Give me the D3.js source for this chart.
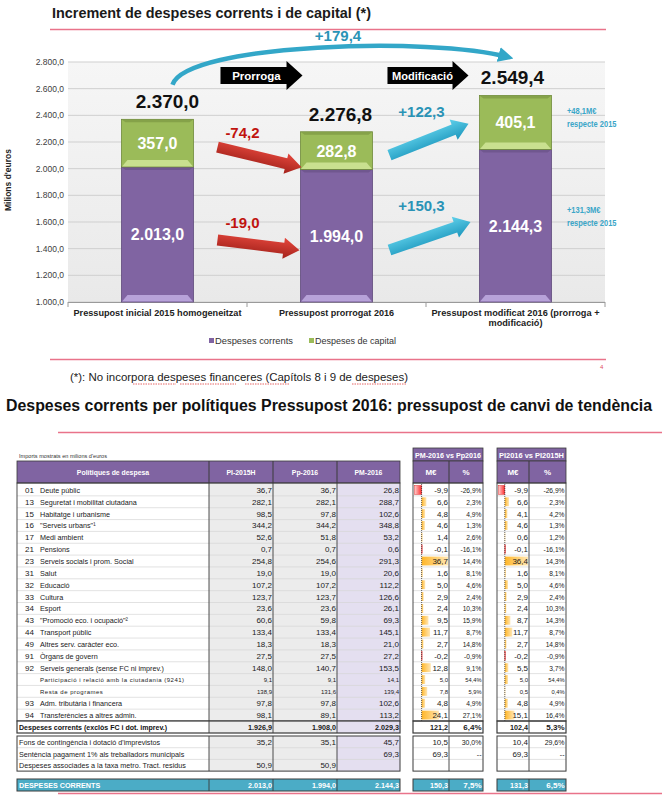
<!DOCTYPE html>
<html><head><meta charset="utf-8">
<script src="https://cdn.jsdelivr.net/npm/d3@7"></script>
<style>body{margin:0;background:#fff}svg{display:block;font-family:"Liberation Sans",Arial,sans-serif}</style>
</head><body>
<svg id="c" width="662" height="798"></svg>
<script>
// ---------- DATA: chart ----------
const categories = ["Pressupost inicial 2015 homogeneitzat","Pressupost prorrogat 2016","Pressupost modificat 2016 (prorroga + modificació)"];
const categoryLines = [["Pressupost inicial 2015 homogeneitzat"],["Pressupost prorrogat 2016"],["Pressupost modificat 2016 (prorroga +","modificació)"]];
const corrents = [2013.0, 1994.0, 2144.3];
const capital = [357.0, 282.8, 405.1];
const totals = [2370.0, 2276.8, 2549.4];
const yTicks = [1000,1200,1400,1600,1800,2000,2200,2400,2600,2800];
const changeCapital = [-74.2, 122.3];
const changeCorrents = [-19.0, 150.3];
const totalChange = 179.4;
const vs2015Notes = [["+48,1M€","respecte 2015"],["+131,3M€","respecte 2015"]];
const seriesNames = ["Despeses corrents","Despeses de capital"];

// ---------- DATA: table ----------
const codes = ["01","13","15","16","17","21","23","31","32","33","34","43","44","49","91","92","","","93","94"];
const policies = ["Deute públic","Seguretat i mobilitat ciutadana","Habitatge i urbanisme","\"Serveis urbans\"¹","Medi ambient","Pensions","Serveis socials i prom. Social","Salut","Educació","Cultura","Esport","\"Promoció eco. i ocupació\"²","Transport públic","Altres serv. caràcter eco.","Òrgans de govern","Serveis generals (sense FC ni imprev.)","Participació i relació amb la ciutadania (9241)","Resta de programes","Adm. tributària i financera","Transferències a altres admin."];
const subRow = [0,0,0,0,0,0,0,0,0,0,0,0,0,0,0,0,1,1,0,0];
const pi2015h = [36.7,282.1,98.5,344.2,52.6,0.7,254.8,19.0,107.2,123.7,23.6,60.6,133.4,18.3,27.5,148.0,9.1,138.9,97.8,98.1];
const pp2016  = [36.7,282.1,97.8,344.2,51.8,0.7,254.6,19.0,107.2,123.7,23.6,59.8,133.4,18.3,27.5,140.7,9.1,131.6,97.8,89.1];
const pm2016  = [26.8,288.7,102.6,348.8,53.2,0.6,291.3,20.6,112.2,126.6,26.1,69.3,145.1,21.0,27.2,153.5,14.1,139.4,102.6,113.2];
const diffPmPp = [-9.9,6.6,4.8,4.6,1.4,-0.1,36.7,1.6,5.0,2.9,2.4,9.5,11.7,2.7,-0.2,12.8,5.0,7.8,4.8,24.1];
const pctPmPp  = [-26.9,2.3,4.9,1.3,2.6,-16.1,14.4,8.1,4.6,2.4,10.3,15.9,8.7,14.8,-0.9,9.1,54.4,5.9,4.9,27.1];
const diffPmPi = [-9.9,6.6,4.1,4.6,0.6,-0.1,36.4,1.6,5.0,2.9,2.4,8.7,11.7,2.7,-0.2,5.5,5.0,0.5,4.8,15.1];
const pctPmPi  = [-26.9,2.3,4.2,1.3,1.2,-16.1,14.3,8.1,4.6,2.4,10.3,14.3,8.7,14.8,-0.9,3.7,54.4,0.4,4.9,16.4];
const subtotalRow = ["Despeses corrents (exclòs FC i dot. imprev.)",1926.9,1908.0,2029.3,121.2,6.4,102.4,5.3];
const otherNames = ["Fons de contingència i dotació d'imprevistos","Sentència pagament 1% als treballadors municipals","Despeses associades a la taxa metro. Tract. residus"];
const otherPi = [35.2,"",50.9];
const otherPp = [35.1,"",50.9];
const otherPm = [45.7,69.3,""];
const otherDiffPmPp = [10.5,69.3,""];
const otherPctPmPp = [30.0,"--",""];
const otherDiffPmPi = [10.4,69.3,""];
const otherPctPmPi = [29.6,"--",""];
const totalRow = ["DESPESES CORRENTS",2013.0,1994.0,2144.3,150.3,7.5,131.3,6.5];
const tableHeaders = ["Polítiques de despesa","PI-2015H","Pp-2016","PM-2016"];
const compareHeaders = ["PM-2016 vs Pp2016","PI2016 vs PI2015H"];

// ---------- helpers ----------
const loc = d3.formatLocale({decimal:",",thousands:".",grouping:[3],currency:["","€"],minus:"-"});
const f1 = loc.format(",.1f");
const num = v => typeof v === "number" ? f1(v) : v;
const pct = v => typeof v === "number" ? f1(v)+"%" : v;
function sq(sel,f){sel.each(function(){const L=this.getComputedTextLength();d3.select(this).attr("textLength",L*f).attr("lengthAdjust","spacingAndGlyphs");});return sel;}
function fitW(sel,w){sel.attr("textLength",w).attr("lengthAdjust","spacingAndGlyphs");return sel;}

const svg = d3.select("#c");
const defs = svg.append("defs");
function grad(id,c1,c2,vertical=true){const g=defs.append("linearGradient").attr("id",id);
  if(vertical)g.attr("x1",0).attr("y1",0).attr("x2",0).attr("y2",1);else g.attr("x1",0).attr("y1",0).attr("x2",1).attr("y2",0);
  g.append("stop").attr("offset","0%").attr("stop-color",c1);g.append("stop").attr("offset","100%").attr("stop-color",c2);}
grad("gRed","#e5473d","#a3221b");
grad("gTeal","#5fd0ea","#1d97bd");
grad("gPlot","#f6f6f6","#e9e9e9");
grad("gBarPos","#ffb628","#ffe6b3",false);
grad("gBarNeg","#ffd0d0","#ff2a2a",false);
defs.append("marker").attr("id","mHead").attr("viewBox","0 0 10 10").attr("refX",6).attr("refY",5)
  .attr("markerWidth",3.4).attr("markerHeight",3.4).attr("orient","auto")
  .append("path").attr("d","M0,0 L10,5 L0,10 z").attr("fill","#33a7c8");

function blockArrow(x1,y1,x2,y2,shaft,head,headLen,fill){
  const dx=x2-x1,dy=y2-y1,L=Math.hypot(dx,dy),a=Math.atan2(dy,dx)*180/Math.PI;
  const p=[[0,-shaft/2],[L-headLen,-shaft/2],[L-headLen,-head/2],[L,0],[L-headLen,head/2],[L-headLen,shaft/2],[0,shaft/2]];
  svg.append("polygon").attr("points",p.map(d=>d.join(",")).join(" "))
    .attr("transform",`translate(${x1},${y1}) rotate(${a})`).attr("fill",fill);
}

// ---------- TOP CHART ----------
svg.append("text").attr("x",52).attr("y",17.5).attr("font-size",15).attr("font-weight","bold").attr("fill","#1a1a1a")
  .text("Increment de despeses corrents i de capital (*)").call(fitW,319);
svg.append("line").attr("x1",50).attr("x2",606).attr("y1",29.5).attr("y2",29.5).attr("stroke","#e9738a").attr("stroke-width",1.6);

const x = d3.scaleBand().domain(categories).range([68,605]).paddingInner(0.598).paddingOuter(0.299);
const y = d3.scaleLinear().domain([1000,2800]).range([302,62]);
const bw = x.bandwidth();

svg.append("rect").attr("x",68).attr("y",y(2800)).attr("width",537).attr("height",y(1000)-y(2800)).attr("fill","url(#gPlot)");
svg.selectAll(".grid").data(yTicks).join("line").attr("x1",68).attr("x2",605)
  .attr("y1",d=>y(d)).attr("y2",d=>y(d)).attr("stroke","#cfcfcf").attr("stroke-width",1);
svg.selectAll(".ytl").data(yTicks).join("text").attr("x",64).attr("y",d=>y(d)+3).attr("text-anchor","end")
  .attr("font-size",8.5).attr("fill","#404040").text(d=>f1(d));
svg.append("text").attr("transform","translate(11,180) rotate(-90)").attr("text-anchor","middle")
  .attr("font-size",8.5).attr("font-weight","bold").attr("fill","#222").text("Milions d'euros");
// x axis
svg.append("line").attr("x1",68).attr("x2",605).attr("y1",302.5).attr("y2",302.5).attr("stroke","#9a9a9a");
const bounds=[68].concat(categories.map(c=>x(c)+bw+x.step()*x.paddingInner()/2));
svg.selectAll(".xt").data(bounds).join("line").attr("x1",d=>d).attr("x2",d=>d).attr("y1",302).attr("y2",307).attr("stroke","#9a9a9a");
categories.forEach((c,i)=>{
  const widths=[[168],[115],[168,54]][i];
  categoryLines[i].forEach((ln,j)=>{
    svg.append("text").attr("x",x(c)+bw/2).attr("y",316+j*10).attr("text-anchor","middle").attr("font-size",9)
      .attr("font-weight","bold").attr("fill","#222").text(ln).call(fitW,widths[j]);
  });
});

// bars
function segment(x0,yTop,yBot,fill,light,dark){
  svg.append("rect").attr("x",x0).attr("y",yTop).attr("width",bw).attr("height",yBot-yTop).attr("fill",fill)
    .attr("stroke",dark).attr("stroke-width",0.8);
  const h=Math.min(7,(yBot-yTop)/3);
  svg.append("polygon").attr("points",`${x0+0.5},${yBot-0.5} ${x0+bw-0.5},${yBot-0.5} ${x0+bw-6},${yBot-h} ${x0+6},${yBot-h}`).attr("fill",light);
  svg.append("polygon").attr("points",`${x0+0.5},${yTop+0.5} ${x0+bw-0.5},${yTop+0.5} ${x0+bw-4},${yTop+3} ${x0+4},${yTop+3}`).attr("fill",dark).attr("opacity",0.5);
}
categories.forEach((c,i)=>{
  const x0=x(c);
  segment(x0,y(corrents[i]),y(1000),"#8064a2","#b7a2d9","#5f4a7c");
  segment(x0,y(corrents[i]+capital[i]),y(corrents[i]),"#9bbb59","#c9e08f","#6f8a3a");
  svg.append("text").attr("x",x0+bw/2).attr("y",(y(corrents[i])+y(1000))/2+6).attr("text-anchor","middle")
    .attr("font-size",16).attr("font-weight","bold").attr("fill","#fff").text(f1(corrents[i]));
  svg.append("text").attr("x",x0+bw/2).attr("y",(y(corrents[i]+capital[i])+y(corrents[i]))/2+6).attr("text-anchor","middle")
    .attr("font-size",16).attr("font-weight","bold").attr("fill","#fff").text(f1(capital[i]));
  svg.append("text").attr("x",x0+bw/2+[10,4,-3][i]).attr("y",y(totals[i])-11).attr("text-anchor","middle")
    .attr("font-size",19).attr("font-weight","bold").attr("fill","#111").text(f1(totals[i]));
});

// black process arrows
const c0=categories[0],c1=categories[1],c2=categories[2];
blockArrow(x(c0)+bw+27,y(2698),x(c1)+2,y(2698),17,29,16,"#000");
blockArrow(x(c1)+bw+15,y(2698),x(c2)-11,y(2698),17,29,16,"#000");
svg.append("text").attr("x",x(c0)+bw+63).attr("y",y(2698)+4).attr("text-anchor","middle").attr("font-size",11.5)
  .attr("font-weight","bold").attr("fill","#fff").text("Prorroga");
svg.append("text").attr("x",x(c1)+bw+50).attr("y",y(2698)+4).attr("text-anchor","middle").attr("font-size",11.5)
  .attr("font-weight","bold").attr("fill","#fff").text("Modificació").call(fitW,61);

// change arrows
blockArrow(x(c0)+bw+24,y(2162),x(c1)+1,y(2010),11,21,16,"url(#gRed)");
blockArrow(x(c0)+bw+24,y(1465),x(c1)-1,y(1388),11,21,16,"url(#gRed)");
blockArrow(x(c1)+bw+17,y(2102),x(c2)-11,y(2337),11,22,16,"url(#gTeal)");
blockArrow(x(c1)+bw+17,y(1390),x(c2)-9,y(1600),11,22,16,"url(#gTeal)");
svg.append("text").attr("x",x(c0)+bw+49).attr("y",y(2232)).attr("text-anchor","middle").attr("font-size",15)
  .attr("font-weight","bold").attr("fill","#c0140f").text(f1(changeCapital[0]));
svg.append("text").attr("x",x(c0)+bw+49).attr("y",y(1552)).attr("text-anchor","middle").attr("font-size",15)
  .attr("font-weight","bold").attr("fill","#c0140f").text(f1(changeCorrents[0]));
svg.append("text").attr("x",x(c1)+bw+49).attr("y",y(2388)).attr("text-anchor","middle").attr("font-size",15)
  .attr("font-weight","bold").attr("fill","#2a93b6").text("+"+f1(changeCapital[1]));
svg.append("text").attr("x",x(c1)+bw+49).attr("y",y(1680)).attr("text-anchor","middle").attr("font-size",15)
  .attr("font-weight","bold").attr("fill","#2a93b6").text("+"+f1(changeCorrents[1]));

// big curved arrow
const sx=x(c0)+bw/2+15, sy=y(2630), ex=x(c2)+bw/2-2, ey=y(2815);
svg.append("path").attr("d",`M${sx},${sy} C${sx+14},${y(2940)} ${ex-80},${y(2990)} ${ex-6},${ey-3}`)
  .attr("fill","none").attr("stroke","#33a7c8").attr("stroke-width",4.5).attr("marker-end","url(#mHead)");
svg.append("text").attr("x",338).attr("y",41).attr("text-anchor","middle").attr("font-size",15)
  .attr("font-weight","bold").attr("fill","#2a93b6").text("+"+f1(totalChange));

// side notes
[[y(2410),y(2310)],[y(1665),y(1570)]].forEach((ys,k)=>{
  vs2015Notes[k].forEach((t,j)=>svg.append("text").attr("x",567).attr("y",[ys[0],ys[0]+12.5][j]).attr("font-size",8.5)
    .attr("font-weight","bold").attr("fill","#3aa6c8").text(t).call(sq,0.88));
});

// legend
const lg=[[209,"#8064a2",seriesNames[0],78],[309,"#9bbb59",seriesNames[1],81]];
lg.forEach(d=>{
  svg.append("rect").attr("x",d[0]).attr("y",338).attr("width",5).attr("height",5).attr("fill",d[1]);
  svg.append("text").attr("x",d[0]+6).attr("y",344).attr("font-size",9).attr("fill","#333").text(d[2]).call(fitW,d[3]);
});
svg.append("line").attr("x1",50).attr("x2",606).attr("y1",359.5).attr("y2",359.5).attr("stroke","#e9738a").attr("stroke-width",1.4);
svg.append("text").attr("x",600).attr("y",369).attr("font-size",6).attr("fill","#e05060").text("4");
const fn=svg.append("text").attr("x",70).attr("y",381).attr("font-size",11.5).attr("fill","#222");
fn.text("(*): No incorpora despeses financeres (Capítols 8 i 9 de despeses)").call(fitW,338);
// spellcheck squiggles
[[133,176],[180,236],[245,289],[352,407]].forEach(r=>{
  svg.append("line").attr("x1",r[0]).attr("x2",r[1]).attr("y1",384).attr("y2",384).attr("stroke","#e04040")
    .attr("stroke-width",0.8).attr("stroke-dasharray","1.5,1");
});

// ---------- SECOND PART ----------
svg.append("text").attr("x",6).attr("y",410.5).attr("font-size",16).attr("font-weight","bold").attr("fill","#111")
  .text("Despeses corrents per polítiques  Pressupost 2016: pressupost de canvi de tendència").call(fitW,646);
svg.append("line").attr("x1",58).attr("x2",662).attr("y1",432.5).attr("y2",432.5).attr("stroke","#e9738a").attr("stroke-width",1.6);
svg.append("text").attr("x",19).attr("y",458).attr("font-size",5.5).attr("fill","#333")
  .text("Imports mostrats en milions d'euros").call(fitW,88);

const C={L:17,nameR:209,piR:273,ppR:337,pmR:400,t1L:413,t1M:449,t1R:483,t2L:497,t2M:529,t2R:566};
const PURPLE="#8064a2", DARK="#3a3a3a", LIGHT="#d6d6d6", GRAYC="#ececec", LAV="#e4dff0", TEAL="#4bacc6";
const hTop=461, hBot=483, rTop=484, rh=11.85;

// headers
svg.append("rect").attr("x",C.L).attr("y",hTop).attr("width",C.pmR-C.L).attr("height",hBot-hTop).attr("fill",PURPLE).attr("stroke",DARK).attr("stroke-width",0.8);
[[C.L,C.nameR],[C.nameR,C.piR],[C.piR,C.ppR],[C.ppR,C.pmR]].forEach((b,i)=>{
  if(i>0)svg.append("line").attr("x1",b[0]).attr("x2",b[0]).attr("y1",hTop).attr("y2",hBot).attr("stroke",DARK);
  svg.append("text").attr("x",(b[0]+b[1])/2).attr("y",(hTop+hBot)/2+3).attr("text-anchor","middle").attr("font-size",8)
    .attr("font-weight","bold").attr("fill","#fff").text(tableHeaders[i]).call(sq,0.86);
});
[[C.t1L,C.t1M,C.t1R],[C.t2L,C.t2M,C.t2R]].forEach((t,k)=>{
  svg.append("rect").attr("x",t[0]).attr("y",448).attr("width",t[2]-t[0]).attr("height",hTop-448).attr("fill",PURPLE).attr("stroke",DARK).attr("stroke-width",0.8);
  svg.append("text").attr("x",(t[0]+t[2])/2).attr("y",457.5).attr("text-anchor","middle").attr("font-size",7.5)
    .attr("font-weight","bold").attr("fill","#fff").text(compareHeaders[k]).call(fitW,t[2]-t[0]-4);
  svg.append("rect").attr("x",t[0]).attr("y",hTop).attr("width",t[2]-t[0]).attr("height",hBot-hTop).attr("fill",PURPLE).attr("stroke",DARK).attr("stroke-width",0.8);
  svg.append("line").attr("x1",t[1]).attr("x2",t[1]).attr("y1",hTop).attr("y2",hBot).attr("stroke",DARK);
  svg.append("text").attr("x",(t[0]+t[1])/2).attr("y",(hTop+hBot)/2+3).attr("text-anchor","middle").attr("font-size",8)
    .attr("font-weight","bold").attr("fill","#fff").text("M€");
  svg.append("text").attr("x",(t[1]+t[2])/2).attr("y",(hTop+hBot)/2+3).attr("text-anchor","middle").attr("font-size",8)
    .attr("font-weight","bold").attr("fill","#fff").text("%");
});

// data bars scales
const xb1=d3.scaleLinear().domain([d3.min(diffPmPp),d3.max(diffPmPp)]).range([C.t1L+1.5,C.t1M-1]);
const xb2=d3.scaleLinear().domain([d3.min(diffPmPi),d3.max(diffPmPi)]).range([C.t2L+1.5,C.t2M-1]);

function block(y0,n,h,opts){
  svg.append("rect").attr("x",C.nameR).attr("y",y0).attr("width",C.ppR-C.nameR).attr("height",n*h).attr("fill",opts.bg||GRAYC);
  svg.append("rect").attr("x",C.ppR).attr("y",y0).attr("width",C.pmR-C.ppR).attr("height",n*h).attr("fill",opts.bgPm||LAV);
  for(let i=1;i<n;i++){
    [[C.L,C.pmR],[C.t1L,C.t1R],[C.t2L,C.t2R]].forEach(b=>svg.append("line").attr("x1",b[0]).attr("x2",b[1]).attr("y1",y0+i*h).attr("y2",y0+i*h).attr("stroke",LIGHT).attr("stroke-width",0.7));
  }
}
function frame(y0,y1,w){
  [[C.L,C.pmR],[C.t1L,C.t1R],[C.t2L,C.t2R]].forEach(b=>svg.append("rect").attr("x",b[0]).attr("y",y0).attr("width",b[1]-b[0]).attr("height",y1-y0)
    .attr("fill","none").attr("stroke",DARK).attr("stroke-width",w||0.9));
  [C.nameR,C.piR,C.ppR,C.t1M,C.t2M].forEach(v=>svg.append("line").attr("x1",v).attr("x2",v).attr("y1",y0).attr("y2",y1).attr("stroke",DARK).attr("stroke-width",0.9));
}
function cellText(xr,yb,t,size,bold,color){
  return svg.append("text").attr("x",xr).attr("y",yb).attr("text-anchor","end").attr("font-size",size)
    .attr("font-weight",bold?"bold":"normal").attr("fill",color||"#1a1a1a").text(t);
}

// main rows
const nR=policies.length;
block(rTop,nR,rh,{});
policies.forEach((p,i)=>{
  const yy=rTop+i*rh;
  [[xb1,diffPmPp[i]],[xb2,diffPmPi[i]]].forEach(([sc,v])=>{
    const a=sc(0), b=sc(v);
    svg.append("rect").attr("x",Math.min(a,b)).attr("y",yy+1.5).attr("width",Math.max(0.6,Math.abs(b-a))).attr("height",rh-3)
      .attr("fill",v<0?"url(#gBarNeg)":"url(#gBarPos)").attr("stroke",v<0?"#e03030":"none").attr("stroke-width",0.5);
  });
});
[xb1,xb2].forEach(sc=>svg.append("line").attr("x1",sc(0)).attr("x2",sc(0)).attr("y1",rTop).attr("y2",rTop+nR*rh)
  .attr("stroke","#222").attr("stroke-width",0.7).attr("stroke-dasharray","1,1"));
policies.forEach((p,i)=>{
  const yb=rTop+i*rh+rh/2+3;
  const s=subRow[i];
  const fs=s?6:8;
  const yt=s?yb-0.5:yb;
  if(codes[i])svg.append("text").attr("x",25).attr("y",yb).attr("font-size",8).attr("fill","#1a1a1a").text(codes[i]);
  const nt=svg.append("text").attr("x",40).attr("y",yt).attr("font-size",fs).attr("fill","#1a1a1a").text(p);
  if(s) nt.attr("letter-spacing",0.5).call(sq,1.0); else nt.call(sq,0.9);
  cellText(C.piR-1,yt,num(pi2015h[i]),fs);
  cellText(C.ppR-1,yt,num(pp2016[i]),fs);
  cellText(C.pmR-1,yt,num(pm2016[i]),fs);
  cellText(C.t1M-1,yt,num(diffPmPp[i]),fs);
  cellText(C.t1R-1.5,yt,pct(pctPmPp[i]),s?6:7).call(sq,0.95);
  cellText(C.t2M-1,yt,num(diffPmPi[i]),fs);
  cellText(C.t2R-1.5,yt,pct(pctPmPi[i]),s?6:7).call(sq,0.95);
});
frame(rTop-1,rTop+nR*rh,0.9);

// subtotal row
const sT=rTop+nR*rh, sB=sT+12;
block(sT,1,12,{});
svg.append("rect").attr("x",C.L).attr("y",sT).attr("width",C.nameR-C.L).attr("height",12).attr("fill","#fff");
frame(sT,sB,1.2);
svg.append("text").attr("x",19).attr("y",sT+9).attr("font-size",8).attr("font-weight","bold").attr("fill","#111").text(subtotalRow[0]).call(sq,0.88);
[[C.piR,1],[C.ppR,2],[C.pmR,3],[C.t1M,4],[C.t2M,6]].forEach(([xr,k])=>cellText(xr-1,sT+9,num(subtotalRow[k]),8,true).call(sq,0.9));
cellText(C.t1R-1.5,sT+9,pct(subtotalRow[5]),8,true);
cellText(C.t2R-1.5,sT+9,pct(subtotalRow[7]),8,true);

// other rows
const oT=736, oh=11.7;
block(oT,otherNames.length,oh,{});
otherNames.forEach((nm,i)=>{
  const yb=oT+i*oh+oh/2+3;
  svg.append("text").attr("x",19).attr("y",yb).attr("font-size",8).attr("fill","#1a1a1a").text(nm).call(sq,0.9);
  cellText(C.piR-1,yb,num(otherPi[i]),8);
  cellText(C.ppR-1,yb,num(otherPp[i]),8);
  cellText(C.pmR-1,yb,num(otherPm[i]),8);
  cellText(C.t1M-1,yb,num(otherDiffPmPp[i]),8);
  cellText(C.t1R-1.5,yb,pct(otherPctPmPp[i]),7);
  cellText(C.t2M-1,yb,num(otherDiffPmPi[i]),8);
  cellText(C.t2R-1.5,yb,pct(otherPctPmPi[i]),7);
});
frame(oT,oT+otherNames.length*oh,1);

// final teal row
const fT=779,fB=791;
[[C.L,C.pmR],[C.t1L,C.t1R],[C.t2L,C.t2R]].forEach(b=>svg.append("rect").attr("x",b[0]).attr("y",fT).attr("width",b[1]-b[0]).attr("height",fB-fT).attr("fill",TEAL));
frame(fT,fB,1);
svg.append("text").attr("x",19).attr("y",fT+9).attr("font-size",8).attr("font-weight","bold").attr("fill","#fff").text(totalRow[0]).call(sq,0.9);
[[C.piR,1],[C.ppR,2],[C.pmR,3],[C.t1M,4],[C.t2M,6]].forEach(([xr,k])=>cellText(xr-1,fT+9,num(totalRow[k]),8,true,"#fff").call(sq,0.9));
cellText(C.t1R-1.5,fT+9,pct(totalRow[5]),8,true,"#fff");
cellText(C.t2R-1.5,fT+9,pct(totalRow[7]),8,true,"#fff");
svg.append("line").attr("x1",58).attr("x2",662).attr("y1",793.5).attr("y2",793.5).attr("stroke","#e9738a").attr("stroke-width",1.4);
</script>
</body></html>
